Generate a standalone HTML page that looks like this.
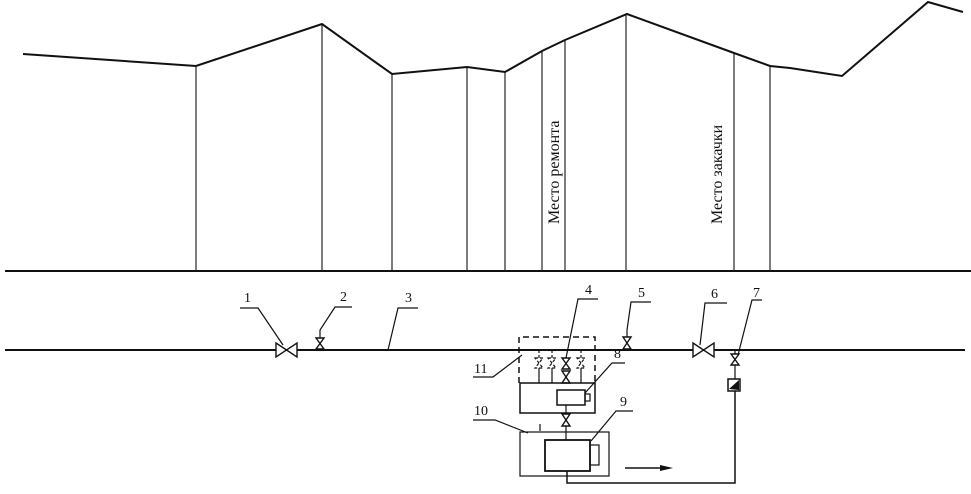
<!DOCTYPE html>
<html><head><meta charset="utf-8"><style>
html,body{margin:0;padding:0;background:#fff;}
svg{display:block;}
text{font-family:"Liberation Serif",serif;fill:#111;}
</style></head><body>
<svg width="971" height="494" viewBox="0 0 971 494" xmlns="http://www.w3.org/2000/svg">
<g stroke="#111" fill="none" stroke-width="1.6">
<polyline points="23,54 196,66 322,24 392,74 467,67 505,72 542,51 565,40 627,14 734,53 770,66 790,68 842,76 928,2 963,12" stroke-width="2"/>
<g stroke-width="1.1">
<line x1="196" y1="66" x2="196" y2="271"/>
<line x1="322" y1="24" x2="322" y2="271"/>
<line x1="392" y1="74" x2="392" y2="271"/>
<line x1="467" y1="67" x2="467" y2="271"/>
<line x1="505" y1="72" x2="505" y2="271"/>
<line x1="542" y1="51" x2="542" y2="271"/>
<line x1="565" y1="40" x2="565" y2="271"/>
<line x1="626" y1="14" x2="626" y2="271"/>
<line x1="734" y1="53" x2="734" y2="271"/>
<line x1="770" y1="66" x2="770" y2="271"/>
</g>
<line x1="5" y1="271" x2="971" y2="271" stroke-width="2"/>
<line x1="5" y1="350" x2="965" y2="350" stroke-width="2"/>
</g>
<g stroke="#111" fill="#fff" stroke-width="1.4">
<polygon points="276,343 297,357 297,343 276,357"/>
<polygon points="693,343 714,357 714,343 693,357"/>
<polygon points="316,338 324,338 316,349 324,349"/>
<polygon points="623,337 631,337 623,349 631,349"/>
<polygon points="731,354 739,354 731,365 739,365"/>
<polygon points="562,358 570,358 562,369 570,369"/>
<polygon points="562,371 570,371 562,383 570,383"/>
<polygon points="562,414 570,414 562,426 570,426"/>
</g>
<g stroke="#111" fill="none" stroke-width="1.2">
<polyline points="240,308 258,308 283,345"/>
<polyline points="352,307 335,307 320,330 320,338"/>
<polyline points="418,308 398,308 388,350"/>
<polyline points="598,299 578,299 566,358"/>
<polyline points="651,302 631,302 627,330 627,337"/>
<polyline points="727,303 705,303 700,345"/>
<polyline points="762,300 752,300 738,355"/>
<polyline points="625,363 612,363 585,393"/>
<polyline points="633,411 616,411 591,441"/>
<polyline points="473,420 495,420 528,433"/>
<polyline points="473,377 493,377 522,355"/>
<line x1="540" y1="424" x2="540" y2="431"/>
<polyline points="519,383 519,337 595,337 595,383" stroke-dasharray="6,4" stroke-width="1.5"/>
<g stroke-dasharray="3,2">
<line x1="539" y1="350" x2="539" y2="358"/><line x1="552" y1="350" x2="552" y2="358"/><line x1="581" y1="350" x2="581" y2="358"/>
<polygon points="535,358 543,358 535,368 543,368"/>
<polygon points="548,358 556,358 548,368 556,368"/>
<polygon points="577,358 585,358 577,368 585,368"/>
</g>
<line x1="539" y1="368" x2="539" y2="383"/><line x1="552" y1="368" x2="552" y2="383"/><line x1="581" y1="368" x2="581" y2="383"/>
<rect x="520" y="383" width="75" height="30" stroke-width="1.5"/>
<rect x="557" y="390" width="28" height="15" stroke-width="1.5"/>
<rect x="585" y="394" width="5" height="7"/>
<line x1="566" y1="405" x2="566" y2="414"/>
<line x1="566" y1="426" x2="566" y2="440"/>
<rect x="520" y="432" width="89" height="44"/>
<rect x="545" y="440" width="45" height="31" stroke-width="1.8"/>
<rect x="590" y="445" width="9" height="20"/>
<polyline points="567,471 567,483 735,483 735,391" stroke-width="1.5"/>
<line x1="735" y1="350" x2="735" y2="354"/><line x1="735" y1="365" x2="735" y2="379"/>
<rect x="728" y="379" width="12" height="12" stroke-width="1.5"/>
<line x1="625" y1="468" x2="662" y2="468" stroke-width="1.5"/>
</g>
<polygon points="660,465 673,468 660,471" fill="#111"/>
<polygon points="729,389 739,380 739,390" fill="#111"/>
<g font-size="14">
<text x="244" y="302">1</text><text x="340" y="301">2</text><text x="405" y="302">3</text>
<text x="585" y="294">4</text><text x="638" y="297">5</text><text x="711" y="298">6</text>
<text x="753" y="297">7</text><text x="614" y="358">8</text><text x="620" y="406">9</text>
<text x="474" y="415">10</text><text x="474" y="373">11</text>
</g>
<text font-size="16" transform="translate(559,224) rotate(-90)">Место ремонта</text>
<text font-size="16" transform="translate(722,224) rotate(-90)">Место закачки</text>
</svg>
</body></html>
